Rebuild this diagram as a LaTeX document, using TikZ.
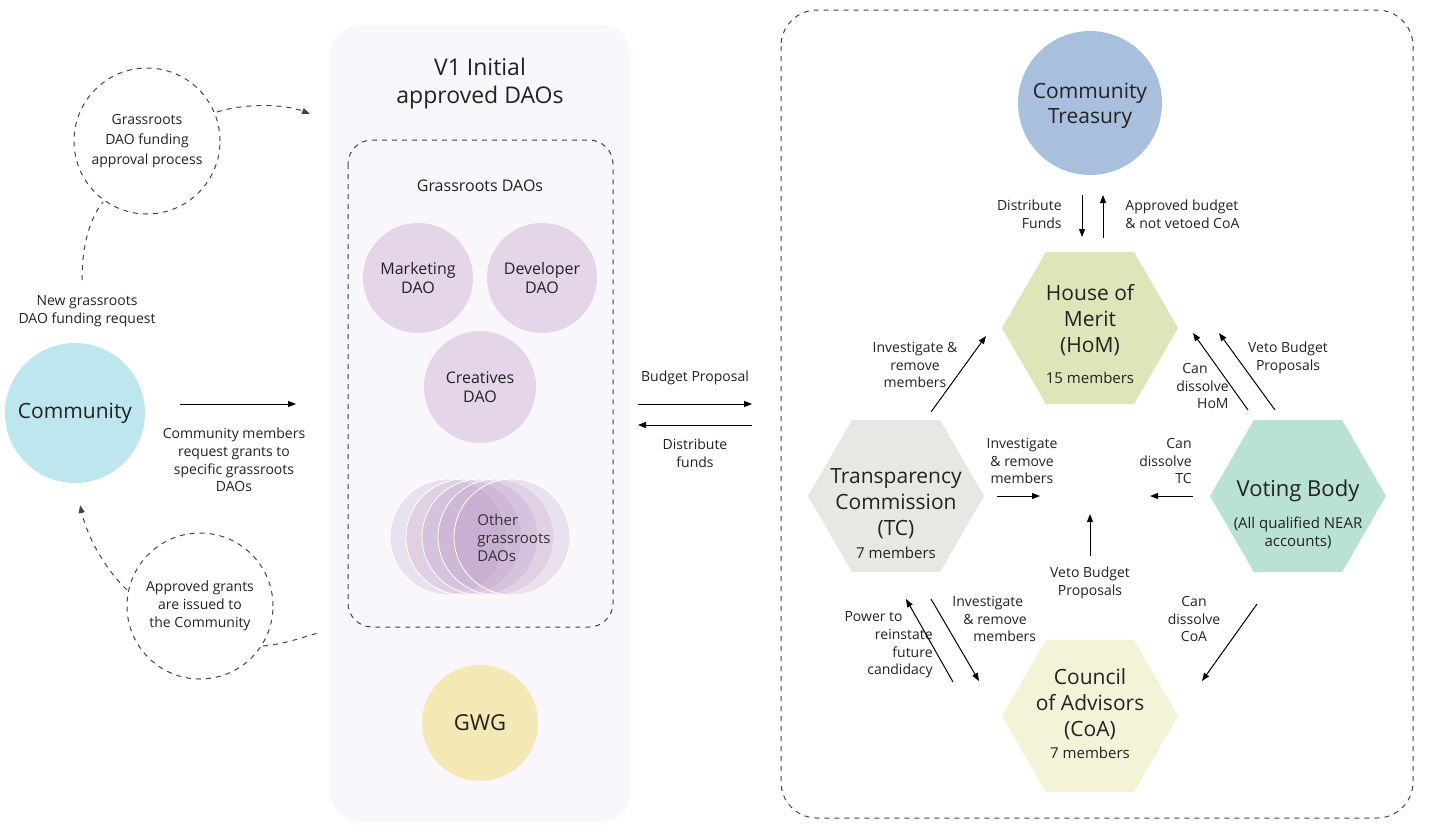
\documentclass[tikz,border=0pt]{standalone}
\usepackage{fontspec}
\setmainfont{Open Sans}
\usetikzlibrary{arrows.meta,shapes.geometric,calc}
\definecolor{commc}{HTML}{BEE6EE}
\definecolor{treasc}{HTML}{A8BFDD}
\definecolor{panelc}{HTML}{F9F7FB}
\definecolor{purpc}{HTML}{E4D6E8}
\definecolor{otherc}{HTML}{B894C2}
\definecolor{gwgc}{HTML}{F4E9B5}
\definecolor{homc}{HTML}{DEE5B8}
\definecolor{tcc}{HTML}{E8E7E3}
\definecolor{vbc}{HTML}{B9E2D4}
\definecolor{coac}{HTML}{F4F2D7}
\definecolor{txtc}{HTML}{222222}
\definecolor{dashc}{HTML}{444444}
\begin{document}
\begin{tikzpicture}[x=0.5pt,y=-0.5pt,
  every node/.style={text=txtc},
  lbl/.style={font=\fontsize{7}{8.8}\selectfont, align=center, inner sep=0pt},
  arr/.style={-{Triangle[length=4pt,width=3pt]}, line width=0.5pt, draw=black},
  dsh/.style={dash pattern=on 2.5pt off 2.5pt, line width=0.5pt, draw=dashc},
  hexa/.style={regular polygon, regular polygon sides=6, minimum size=88pt, inner sep=0pt, draw=none},
  blob/.style={circle, inner sep=0pt, draw=none},
  hextitle/.style={font=\fontsize{10.5}{13}\selectfont, align=center, inner sep=0pt},
  hexsub/.style={font=\fontsize{7.5}{9}\selectfont, align=center, inner sep=0pt}]
\useasboundingbox (0,0) rectangle (1433,831);

% ---------- panels ----------
\fill[panelc, rounded corners=15pt] (330,25) rectangle (631,822);
\draw[dsh, rounded corners=12pt] (348,140) rectangle (613,627);
\draw[dsh, rounded corners=18pt] (781,10) rectangle (1413,818);

% ---------- left part ----------
\node[blob, fill=commc, minimum size=70pt, font=\fontsize{10.5}{12}\selectfont] (comm) at (75,413) {Community};
\node[blob, dsh, draw=dashc, minimum size=73pt, lbl, font=\fontsize{7}{10}\selectfont] (gproc) at (147,141) {Grassroots\\DAO funding\\approval process};
\node[blob, dsh, draw=dashc, minimum size=73pt, lbl, font=\fontsize{7}{9}\selectfont] (appr) at (200,606) {Approved grants\\are issued to\\the Community};
\node[lbl] (newreq) at (87,311) {New grassroots\\DAO funding request};
\node[lbl] (reqlbl) at (234,460) {Community members\\request grants to\\specific grassroots\\DAOs};

\coordinate (nq1) at (82,280);
\coordinate (nq2) at (103,202);
\coordinate (gp1) at (217,112);
\coordinate (gp2) at (310,114);
\coordinate (ap1) at (127,590);
\coordinate (ap2) at (80,505);
\coordinate (ap3) at (263,646);
\coordinate (ap4) at (318,633);
\coordinate (cr1) at (180,404);
\coordinate (cr2) at (296,404);

\draw[dsh] (nq1) .. controls (82,245) and (90,218) .. (nq2);
\draw[dsh, -{Triangle[length=4pt,width=3pt]}] (gp1) .. controls (245,103) and (285,104) .. (gp2);
\draw[dsh, -{Triangle[length=4pt,width=3pt]}] (ap1) .. controls (108,572) and (88,540) .. (ap2);
\draw[dsh] (ap3) .. controls (285,644) and (300,638) .. (ap4);
\draw[arr] (cr1) -- (cr2);

% ---------- middle part ----------
\node[font=\fontsize{11.5}{14}\selectfont, align=center, inner sep=0pt] (v1) at (480,84) {V1 Initial\\approved DAOs};
\node[font=\fontsize{8}{10}\selectfont, inner sep=0pt] (grl) at (480,186) {Grassroots DAOs};
\node[blob, fill=purpc, minimum size=55pt, lbl, font=\fontsize{8}{9.5}\selectfont] (mkt) at (418,278) {Marketing\\DAO};
\node[blob, fill=purpc, minimum size=55pt, lbl, font=\fontsize{8}{9.5}\selectfont] (dev) at (542,278) {Developer\\DAO};
\node[blob, fill=purpc, minimum size=56pt, lbl, font=\fontsize{8}{9.5}\selectfont] (cre) at (480,387) {Creatives\\DAO};
\foreach \i/\xx in {1/448,2/464,3/480,4/496,5/512}{
  \node[blob, fill=otherc, fill opacity=0.22, draw=white, line width=0.4pt, minimum size=58pt] (oth\i) at (\xx,537) {};
}
\node[lbl, align=left, anchor=west, font=\fontsize{7.5}{9}\selectfont, text=black!80] (othl) at (477,538) {Other\\grassroots\\DAOs};
\node[blob, fill=gwgc, minimum size=58pt, font=\fontsize{11}{13}\selectfont] (gwg) at (480,723) {GWG};

\coordinate (bp1) at (638,404);
\coordinate (bp2) at (752,404);
\coordinate (df1) at (752,425);
\coordinate (df2) at (638,425);
\draw[arr] (bp1) -- (bp2);
\draw[arr] (df1) -- (df2);
\node[lbl] (bpl) at (695,378) {Budget Proposal};
\node[lbl] (dfl) at (695,453) {Distribute\\funds};

% ---------- right part ----------
\node[blob, fill=treasc, minimum size=72pt] (treas) at (1090,103) {};
\node[font=\fontsize{10.5}{12.5}\selectfont, align=center, inner sep=0pt] (treast) at (1090,106) {Community\\Treasury};

\node[hexa, fill=homc] (hom) at (1090,328) {};
\node[hextitle] (homt) at (1090,320) {House of\\Merit\\(HoM)};
\node[hexsub] (homs) at (1090,378) {15 members};

\node[hexa, fill=tcc] (tc) at (896,496) {};
\node[hextitle] (tct) at (896,504) {Transparency\\Commission\\(TC)};
\node[hexsub] (tcs) at (896,553) {7 members};

\node[hexa, fill=vbc] (vb) at (1298,496) {};
\node[hextitle, font=\fontsize{11}{13}\selectfont] (vbt) at (1298,491) {Voting Body};
\node[hexsub] (vbs) at (1298,533) {(All qualified NEAR\\accounts)};

\node[hexa, fill=coac] (coa) at (1090,716) {};
\node[hextitle] (coat) at (1090,704) {Council\\of Advisors\\(CoA)};
\node[hexsub] (coas) at (1090,753) {7 members};

% arrow end points
\coordinate (t1) at (1082,195);
\coordinate (t2) at (1082,237);
\coordinate (t3) at (1103,238);
\coordinate (t4) at (1103,195);
\coordinate (a1) at (931,412);
\coordinate (a2) at (986,336);
\coordinate (b1) at (1248,410);
\coordinate (b2) at (1193,333);
\coordinate (c1) at (1275,410);
\coordinate (c2) at (1219,333);
\coordinate (d1) at (997,496);
\coordinate (d2) at (1040,496);
\coordinate (e1) at (1193,496);
\coordinate (e2) at (1150,496);
\coordinate (f1) at (1090,556);
\coordinate (f2) at (1090,514);
\coordinate (g1) at (953,682);
\coordinate (g2) at (906,599);
\coordinate (h1) at (931,599);
\coordinate (h2) at (979,681);
\coordinate (k1) at (1257,604);
\coordinate (k2) at (1202,681);

\draw[arr] (t1) -- (t2);
\draw[arr] (t3) -- (t4);
\draw[arr] (a1) -- (a2);
\draw[arr] (b1) -- (b2);
\draw[arr] (c1) -- (c2);
\draw[arr] (d1) -- (d2);
\draw[arr] (e1) -- (e2);
\draw[arr] (f1) -- (f2);
\draw[arr] (g1) -- (g2);
\draw[arr] (h1) -- (h2);
\draw[arr] (k1) -- (k2);

\node[lbl, align=right, anchor=east] (l1) at (1062,214) {Distribute\\Funds};
\node[lbl, align=left, anchor=west] (l2) at (1125,214) {Approved budget\\\& not vetoed CoA};
\node[lbl] (l3) at (915,365) {Investigate \&\\remove\\members};
\node[lbl, align=right, anchor=east] (l4) at (1229,386) {Can\hspace*{10.5pt}\\dissolve\hspace*{5.5pt}\\HoM};
\node[lbl] (l5) at (1288,358) {Veto Budget\\Proposals};
\node[lbl] (l6) at (1022,461) {Investigate\\\& remove\\members};
\node[lbl, align=right, anchor=east] (l7) at (1192,461) {Can\\dissolve\\TC};
\node[lbl] (l8) at (1090,583) {Veto Budget\\Proposals};
\node[lbl, align=right, anchor=east] (l9) at (933,645) {Power to\hspace*{15pt}\\reinstate\hspace*{9.5pt}\\future\hspace*{4.5pt}\\candidacy};
\node[lbl, align=left, anchor=west] (l10) at (952,619) {Investigate\\\hspace*{5.5pt}\& remove\\\hspace*{10.5pt}members};
\node[lbl] (l11) at (1194,619) {Can\\dissolve\\CoA};
\end{tikzpicture}
\end{document}
